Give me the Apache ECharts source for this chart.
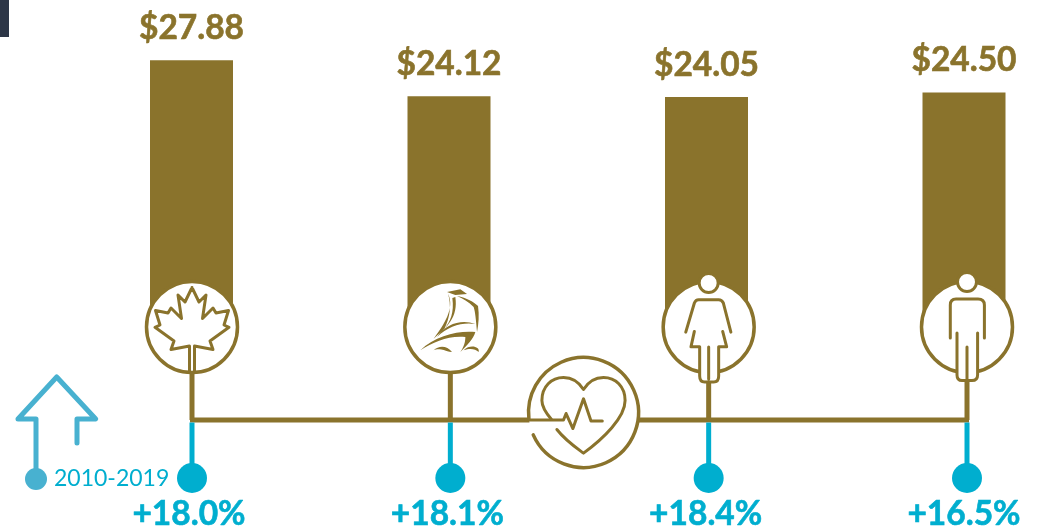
<!DOCTYPE html>
<html>
<head>
<meta charset="utf-8">
<style>
  html, body { margin: 0; padding: 0; background: #fff; }
  #chart { width: 1038px; height: 527px; }
</style>
<script src="https://cdn.jsdelivr.net/npm/echarts@6/dist/echarts.min.js"></script>
</head>
<body>
<div id="chart"></div>
<script>
// 값
const categories = ["maple", "ship", "woman", "man"];
const spending = [27.88, 24.12, 24.05, 24.5];
const growth = [18.0, 18.1, 18.4, 16.5];
const periodLabel = "2010-2019";

const GOLD = "#8a732c";
const TEAL = "#00aecf";
const LEGEND_BLUE = "#48b1d0";
const FONT = 'Lato, "Open Sans", sans-serif';

// 원 중심 기준 아이콘 외곽선. M 두 개는 path 크기를 1:1로 유지하기 위한 박스
const BOX = "M-70 -70M70 70";

const LEAF = "M0 -39.5L7 -25L14 -32L10.5 -8.5L21 -19L24 -14L36.5 -16.5L32 -2L37 .3L18 14L21 22.5L2.5 19L2.5 44.5M-2.5 44.5L-2.5 19L-21 22.5L-18 14L-37 .3L-32 -2L-36.5 -16.5L-24 -14L-21 -19L-10.5 -8.5L-14 -32L-7 -25L0 -39.5";
const SHIP = [
  "M-3.3 -35L10 -37.7L16.7 -33L5 -32Z",
  "M-2.3 -33.3C3.3 -21.7 -1.7 -8.3 -16.7 11.7C-3 0 8 -10 5 -30L2 -29C4 -14 0 -6 -6 2C0 -10 1 -22 -2.3 -33.3Z",
  "M6.7 -31C16.7 -29 23.3 -25 27.7 -21C29 -11.7 28.3 -3.3 26.7 5C25.7 -6.7 25 -15 23.3 -20C18.3 -25 13.3 -28.3 6.7 -31Z",
  "M-13.3 10C-4 -4 12 -8 25 -3C12 -5 -2 -1 -13.3 10Z",
  "M-30 23.3C-15 8.3 8.3 3.3 25 5C23.3 11.7 16.7 18.3 10 25C15 18.3 15 11.7 15 10C-1.7 8.3 -16.7 15 -30 23.3Z",
  "M-16.7 23.3C-11.7 18.3 -3.3 18.3 1.7 25C-1.7 25 -6 23 -9 22.5C-12 22 -14 22 -16.7 23.3Z",
  "M13.3 23.3C20 16.7 30 20 28.3 25C25 22 20 21 13.3 23.3Z"
].join("");
const WOMAN_ARMS = "M-22.9 5.1L-14.3 -24Q-13 -27.3 -10 -27.3L10 -27.3Q13 -27.3 14.7 -24L22.2 5.1";
const WOMAN_LEGS = "M-14.3 4.4L-17.7 19.8L-9 19.8L-9 49Q-9 55 -4 55L5 55Q10 55 10 49L10 19.8L18 19.8L14 4.4";
const MAN_ARMS = "M-16.7 11L-16.7 -22Q-16.7 -28 -11 -28L11 -28Q17.4 -28 17.4 -22L17.4 11";
const MAN_LEGS = "M-10 6.1L-10 48Q-10 53.6 -5 53.6L5 53.6Q10.6 53.6 10.6 48L10.6 6.1";
const HEART = "M-32 7C-38 0 -41.6 -6 -41.6 -12C-41.6 -26 -32 -35 -20 -35C-12 -35 -5 -31 0 -23C5 -31 12 -35 20 -35C32 -35 41.6 -26 41.6 -12C41.6 5 20 26 0 40.6C-9 34 -18 28 -26.6 17";
const ECG = "M-58 7.5L-20 7.5L-17.4 1L-10.6 16L0 -13.7L7.5 8.5L18.8 8.5";

function iconPath(d, style) {
  return {
    type: "path",
    shape: { pathData: BOX + d, x: -70, y: -70, width: 140, height: 140, layout: "cover" },
    style: Object.assign({ fill: "none", stroke: GOLD, lineWidth: 3, lineCap: "round", lineJoin: "round" }, style)
  };
}

function personIcon(arms, legs, headY) {
  return [
    iconPath(arms),
    iconPath(legs + "M0 20L0 52", { fill: "#fff" }),
    { type: "circle", shape: { cx: 0, cy: headY, r: 9.5 }, style: { fill: "#fff", stroke: GOLD, lineWidth: 3 } }
  ];
}

const ICONS = {
  maple: [iconPath(LEAF)],
  ship: [iconPath(SHIP, { fill: GOLD, stroke: "none" })],
  woman: personIcon(WOMAN_ARMS, WOMAN_LEGS, -44),
  man: personIcon(MAN_ARMS, MAN_LEGS, -45)
};

// 줄기 + 원형 아이콘 + 점 + 증가율 라벨
function renderConnector(params, api) {
  const idx = api.value(0);
  const center = api.coord([idx, 0]);
  const trunkY = center[1] + 93;
  const dotY = center[1] + 151;
  const children = [];

  if (params.dataIndex === 0) {
    const last = api.coord([categories.length - 1, 0]);
    children.push({
      type: "line",
      shape: { x1: center[0] - 2, y1: trunkY, x2: last[0] + 2, y2: trunkY },
      style: { stroke: GOLD, lineWidth: 5 }
    });
  }

  children.push(
    { type: "line", shape: { x1: center[0], y1: center[1], x2: center[0], y2: trunkY }, style: { stroke: GOLD, lineWidth: 5 } },
    { type: "line", shape: { x1: center[0], y1: trunkY + 2.5, x2: center[0], y2: dotY }, style: { stroke: TEAL, lineWidth: 5 } },
    { type: "circle", shape: { cx: center[0], cy: dotY, r: 15 }, style: { fill: TEAL } },
    { type: "circle", shape: { cx: center[0], cy: center[1], r: 45.5 }, style: { fill: "#fff", stroke: GOLD, lineWidth: 3.5 } },
    {
      type: "group",
      x: center[0],
      y: center[1],
      children: ICONS[categories[idx]]
    },
    {
      type: "text",
      style: {
        text: "+" + api.value(1).toFixed(1) + "%",
        x: center[0] - 3,
        y: center[1] + 187,
        align: "center",
        verticalAlign: "middle",
        fill: TEAL,
        stroke: TEAL,
        lineWidth: 0.6,
        fontFamily: FONT,
        fontWeight: "bold",
        fontSize: 33.5
      }
    }
  );
  return { type: "group", children: children };
}

// 가운데 심장 아이콘: 2, 3번째 줄기 사이
function renderHeart(params, api) {
  const a = api.coord([1, 0]);
  const b = api.coord([2, 0]);
  return {
    type: "group",
    x: (a[0] + b[0]) / 2 + 4,
    y: a[1] + 85.5,
    children: [
      { type: "circle", shape: { cx: 0, cy: 0, r: 55 }, style: { fill: "#fff" } },
      iconPath(ECG),
      {
        type: "arc",
        shape: { cx: 0, cy: 0, r: 55, startAngle: 156 * Math.PI / 180, endAngle: 173 * Math.PI / 180, clockwise: false },
        style: { fill: "none", stroke: GOLD, lineWidth: 3.5, lineCap: "round" }
      },
      iconPath(HEART)
    ]
  };
}

const chart = echarts.init(document.getElementById("chart"), null, { renderer: "canvas" });

// boundaryGap 없이 첫/끝 카테고리를 grid 양 끝에 둔다 (막대는 clip 해제)
const hiddenX = { type: "category", data: categories, show: false, boundaryGap: false };
const hiddenY = { type: "value", min: -20, max: 30, show: false };

chart.setOption({
  animation: false,
  backgroundColor: "#fff",
  textStyle: { fontFamily: FONT },
  grid: [
    { left: 191.5, top: 40, width: 772.5, height: 478.35 },
    { left: 192, top: 40, width: 775, height: 478.35 }
  ],
  xAxis: [
    Object.assign({ gridIndex: 0 }, hiddenX),
    Object.assign({ gridIndex: 1 }, hiddenX)
  ],
  yAxis: [
    Object.assign({ gridIndex: 0 }, hiddenY),
    Object.assign({ gridIndex: 1 }, hiddenY)
  ],
  series: [
    {
      type: "bar",
      data: spending,
      barWidth: 83,
      clip: false,
      silent: true,
      itemStyle: { color: GOLD },
      label: {
        show: true,
        position: "top",
        distance: 15,
        color: GOLD,
        textBorderColor: GOLD,
        textBorderWidth: 0.6,
        fontFamily: FONT,
        fontWeight: "bold",
        fontSize: 33.5,
        formatter: (p) => "$" + p.value.toFixed(2)
      }
    },
    {
      type: "custom",
      xAxisIndex: 1,
      yAxisIndex: 1,
      clip: false,
      silent: true,
      z: 5,
      data: growth.map((g, i) => [i, g]),
      renderItem: renderConnector
    },
    {
      type: "custom",
      xAxisIndex: 1,
      yAxisIndex: 1,
      clip: false,
      silent: true,
      z: 6,
      data: [[0]],
      renderItem: renderHeart
    }
  ],
  graphic: [
    // 왼쪽 위 잘린 사진 조각
    { type: "rect", shape: { x: 0, y: 0, width: 9, height: 37 }, style: { fill: "#2d3647" } },
    // 범례 화살표
    {
      type: "polyline",
      shape: { points: [[36, 479], [36, 419], [18, 419], [56.7, 377], [95.7, 419], [77, 419], [77, 443]] },
      style: { fill: "none", stroke: LEGEND_BLUE, lineWidth: 5, lineCap: "round", lineJoin: "round" }
    },
    { type: "circle", shape: { cx: 36, cy: 479, r: 11 }, style: { fill: LEGEND_BLUE } },
    {
      type: "text",
      style: { text: periodLabel, x: 54, y: 479, verticalAlign: "middle", fill: TEAL, fontFamily: FONT, fontSize: 23 }
    }
  ]
});
</script>
</body>
</html>
